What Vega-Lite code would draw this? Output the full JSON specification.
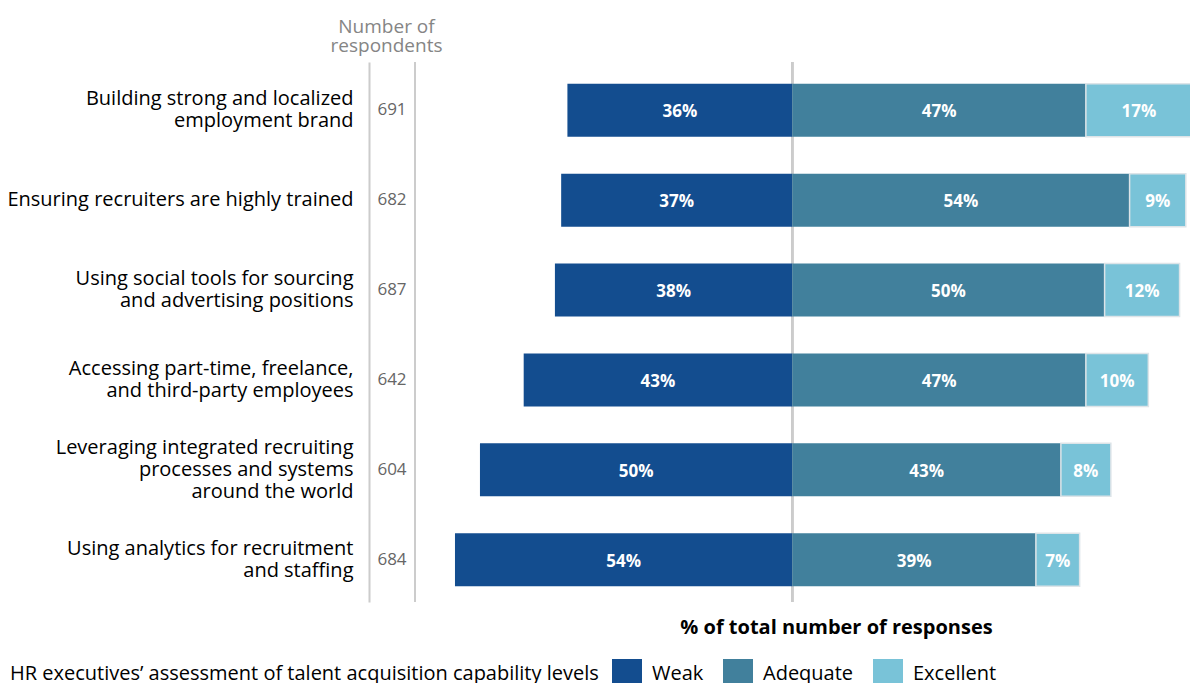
{
  "$schema": "https://vega.github.io/schema/vega-lite/v6.json",
  "width": 775,
  "height": 540,
  "autosize": {"type": "none"},
  "padding": {"left": 415, "top": 62, "right": 0, "bottom": 81},
  "background": "white",
  "config": {
    "font": "Open Sans",
    "view": {"stroke": null},
    "axisX": {"labels": false, "ticks": false, "domain": false, "grid": false, "titleFontSize": 20, "titleFontWeight": "bold", "titleColor": "#000000", "titleX": 421, "titleY": 25, "titleAlign": "center", "titleBaseline": "middle"},
    "axisY": {"offset": 46, "domainColor": "#cccccc", "domainWidth": 2, "ticks": false, "grid": false, "labelPadding": 16, "labelFontSize": 20, "labelColor": "#000000", "labelLineHeight": 22, "labelLimit": 0, "labelExpr": "split(datum.label, '|')", "titleAngle": 0, "titleX": 17, "titleY": -36, "titleAlign": "center", "titleBaseline": "middle", "titleFontSize": 19, "titleFontWeight": "normal", "titleColor": "#858585", "titleLineHeight": 19},
    "legend": {"orient": "none", "direction": "horizontal", "legendX": -405, "legendY": 597, "titleOrient": "left", "titleFontSize": 20, "titleFontWeight": "normal", "titleColor": "#000000", "titlePadding": 13, "titleLimit": 0, "labelFontSize": 20, "labelColor": "#000000", "labelOffset": 10, "columnPadding": 19, "symbolType": "square", "symbolSize": 900, "symbolStrokeWidth": 0, "symbolOpacity": 1}
  },
  "datasets": {
    "bars": [
      {"task": "Building strong and localized|employment brand", "level": "Weak", "pct": 36, "ord": 0},
      {"task": "Building strong and localized|employment brand", "level": "Adequate", "pct": 47, "ord": 1},
      {"task": "Building strong and localized|employment brand", "level": "Excellent", "pct": 17, "ord": 2},
      {"task": "Ensuring recruiters are highly trained", "level": "Weak", "pct": 37, "ord": 0},
      {"task": "Ensuring recruiters are highly trained", "level": "Adequate", "pct": 54, "ord": 1},
      {"task": "Ensuring recruiters are highly trained", "level": "Excellent", "pct": 9, "ord": 2},
      {"task": "Using social tools for sourcing|and advertising positions", "level": "Weak", "pct": 38, "ord": 0},
      {"task": "Using social tools for sourcing|and advertising positions", "level": "Adequate", "pct": 50, "ord": 1},
      {"task": "Using social tools for sourcing|and advertising positions", "level": "Excellent", "pct": 12, "ord": 2},
      {"task": "Accessing part-time, freelance,|and third-party employees", "level": "Weak", "pct": 43, "ord": 0},
      {"task": "Accessing part-time, freelance,|and third-party employees", "level": "Adequate", "pct": 47, "ord": 1},
      {"task": "Accessing part-time, freelance,|and third-party employees", "level": "Excellent", "pct": 10, "ord": 2},
      {"task": "Leveraging integrated recruiting|processes and systems|around the world", "level": "Weak", "pct": 50, "ord": 0},
      {"task": "Leveraging integrated recruiting|processes and systems|around the world", "level": "Adequate", "pct": 43, "ord": 1},
      {"task": "Leveraging integrated recruiting|processes and systems|around the world", "level": "Excellent", "pct": 8, "ord": 2},
      {"task": "Using analytics for recruitment|and staffing", "level": "Weak", "pct": 54, "ord": 0},
      {"task": "Using analytics for recruitment|and staffing", "level": "Adequate", "pct": 39, "ord": 1},
      {"task": "Using analytics for recruitment|and staffing", "level": "Excellent", "pct": 7, "ord": 2}
    ],
    "tasks": [
      {"task": "Building strong and localized|employment brand", "n": 691},
      {"task": "Ensuring recruiters are highly trained", "n": 682},
      {"task": "Using social tools for sourcing|and advertising positions", "n": 687},
      {"task": "Accessing part-time, freelance,|and third-party employees", "n": 642},
      {"task": "Leveraging integrated recruiting|processes and systems|around the world", "n": 604},
      {"task": "Using analytics for recruitment|and staffing", "n": 684}
    ]
  },
  "layer": [
    {
      "data": {"name": "tasks"},
      "mark": {"type": "rule", "color": "#cccccc", "strokeWidth": 2},
      "encoding": {
        "x": {"datum": 0, "type": "quantitative", "scale": {"domain": [-60.4, 63.67], "nice": false, "zero": false}, "title": "% of total number of responses"}
      }
    },
    {
      "data": {"name": "tasks"},
      "mark": {"type": "rule", "color": "#cccccc", "strokeWidth": 2},
      "encoding": {
        "x": {"datum": -60.4, "type": "quantitative", "title": "% of total number of responses"}
      }
    },
    {
      "data": {"name": "bars"},
      "transform": [
        {"calculate": "datum.level === 'Weak' ? -datum.pct : datum.pct", "as": "signed"},
        {"stack": "signed", "groupby": ["task"], "sort": [{"field": "ord", "order": "ascending"}], "as": ["v0", "v1"], "offset": "zero"},
        {"calculate": "(datum.v0 + datum.v1) / 2", "as": "mid"},
        {"calculate": "datum.pct + '%'", "as": "lbl"}
      ],
      "layer": [
        {
          "mark": {"type": "bar", "stroke": "#dde4e8"},
          "encoding": {
            "y": {"field": "task", "type": "nominal", "sort": null, "scale": {"paddingInner": 0.41, "paddingOuter": 0.2086, "align": 0.58}, "title": ["Number of", "respondents"],
              "axis": {"labelOffset": {"condition": [{"test": "indexof(datum.value, 'around') >= 0", "value": -22}, {"test": "indexof(datum.value, '|') >= 0", "value": -11}], "value": 0}}},
            "x": {"field": "v0", "type": "quantitative", "title": "% of total number of responses"},
            "x2": {"field": "v1"},
            "color": {"field": "level", "type": "nominal", "scale": {"domain": ["Weak", "Adequate", "Excellent"], "range": ["#134d8f", "#41809c", "#79c3d8"]}, "title": "HR executives’ assessment of talent acquisition capability levels"},
            "strokeWidth": {"condition": {"test": "datum.level === 'Excellent'", "value": 1.5}, "value": 0}
          }
        },
        {
          "mark": {"type": "text", "color": "white", "fontWeight": "bold", "fontSize": 17, "baseline": "middle", "align": "center", "dy": 2},
          "encoding": {
            "y": {"field": "task", "type": "nominal", "sort": null, "title": ["Number of", "respondents"]},
            "x": {"field": "mid", "type": "quantitative", "title": "% of total number of responses"},
            "text": {"field": "lbl"}
          }
        }
      ]
    },
    {
      "data": {"name": "tasks"},
      "mark": {"type": "text", "color": "#666666", "fontSize": 17, "align": "center", "baseline": "middle", "dx": -23},
      "encoding": {
        "y": {"field": "task", "type": "nominal", "sort": null, "title": ["Number of", "respondents"]},
        "x": {"datum": -60.4, "type": "quantitative", "title": "% of total number of responses"},
        "text": {"field": "n"}
      }
    }
  ]
}
